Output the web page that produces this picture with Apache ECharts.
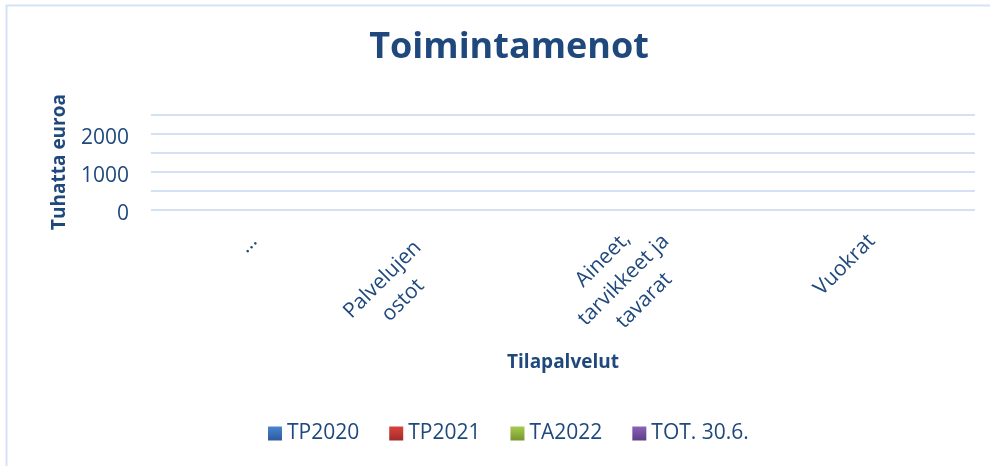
<!DOCTYPE html>
<html>
<head>
<meta charset="utf-8">
<script src="https://cdn.jsdelivr.net/npm/echarts@6/dist/echarts.min.js"></script>
<style>
  html, body { margin: 0; padding: 0; background: #fff; }
  #chart { width: 990px; height: 466px; }
</style>
</head>
<body>
<div id="chart"></div>
<script>
// Data
const categories = ['\u2026', 'Palvelujen\nostot', 'Aineet,\ntarvikkeet ja\ntavarat', 'Vuokrat'];
const seriesNames = ['TP2020', 'TP2021', 'TA2022', 'TOT. 30.6.'];
const tp2020 = [null, null, null, null];
const tp2021 = [null, null, null, null];
const ta2022 = [null, null, null, null];
const tot306 = [null, null, null, null];
const yTickLabels = [0, 1000, 2000];

const textColor = '#1f497d';
const font = '"Open Sans", "Noto Sans", sans-serif';
const labelSize = 21;

// width of the widest line of each category label, so lines can be centred
const ctx = document.createElement('canvas').getContext('2d');
ctx.font = labelSize + 'px "Open Sans"';
const rich = {};
categories.forEach((c, i) => {
  const w = Math.max(...c.split('\n').map(l => ctx.measureText(l).width));
  rich['w' + i] = { width: Math.ceil(w), align: 'center', fontSize: labelSize, fontFamily: font, color: textColor, lineHeight: 29 };
});

// excel sets the second label a bit lower/left than the others
const xData = categories.map((c, i) =>
  i === 1 ? { value: c, textStyle: { padding: [0, 34, 21, 0] } } : c
);

function grad(top, bottom) {
  return new echarts.graphic.LinearGradient(0, 0, 0, 1, [
    { offset: 0, color: top },
    { offset: 1, color: bottom }
  ]);
}
const colors = [
  grad('#4a84d0', '#2c5a9e'),
  grad('#d8443f', '#a32a28'),
  grad('#a6cc4e', '#76962f'),
  grad('#8a62b8', '#5d3f86')
];
const values = [tp2020, tp2021, ta2022, tot306];

const chart = echarts.init(document.getElementById('chart'), null, { renderer: 'canvas' });
chart.setOption({
  animation: false,
  backgroundColor: '#fff',
  graphic: [{
    type: 'polyline',
    shape: { points: [[6.5, 466], [6.5, 5.5], [990, 5.5]] },
    style: { stroke: '#d6e2f5', lineWidth: 2, fill: null }
  }],
  title: {
    text: 'Toimintamenot',
    left: 504,
    top: 25,
    textAlign: 'center',
    textStyle: {
      fontFamily: font,
      fontWeight: 'bold',
      fontSize: 36,
      color: textColor
    }
  },
  legend: {
    data: seriesNames,
    left: 263,
    top: 418,
    icon: 'rect',
    itemWidth: 14,
    itemHeight: 14,
    itemGap: 30,
    textStyle: { fontFamily: font, fontSize: 21, color: textColor }
  },
  grid: { left: 151, right: 15, top: 114.3, bottom: 256.3, containLabel: false },
  xAxis: {
    type: 'category',
    data: xData,
    name: 'Tilapalvelut',
    nameLocation: 'middle',
    nameGap: 135,
    nameTextStyle: { fontFamily: font, fontWeight: 'bold', fontSize: 19, color: textColor },
    axisLine: { show: false },
    axisTick: { show: false },
    axisLabel: {
      interval: 0,
      rotate: 45,
      margin: 28,
      formatter: (v, i) => v.split('\n').map(l => '{w' + i + '|' + l + '}').join('\n'),
      rich: rich
    }
  },
  yAxis: {
    type: 'value',
    min: 0,
    max: 2500,
    interval: 500,
    name: 'Tuhatta euroa',
    nameLocation: 'middle',
    nameGap: 82,
    nameTextStyle: { fontFamily: font, fontWeight: 'bold', fontSize: 19, color: textColor },
    axisLine: { show: false },
    axisTick: { show: false },
    axisLabel: {
      margin: 22,
      fontFamily: font,
      fontSize: 21,
      color: textColor,
      verticalAlign: 'top',
      lineHeight: 9,
      formatter: v => (yTickLabels.includes(v) ? String(v) : '')
    },
    splitLine: { lineStyle: { color: '#d4e0f4', width: 2 } }
  },
  series: seriesNames.map((n, i) => ({
    name: n,
    type: 'bar',
    data: values[i],
    itemStyle: { color: colors[i] }
  }))
});
</script>
</body>
</html>
